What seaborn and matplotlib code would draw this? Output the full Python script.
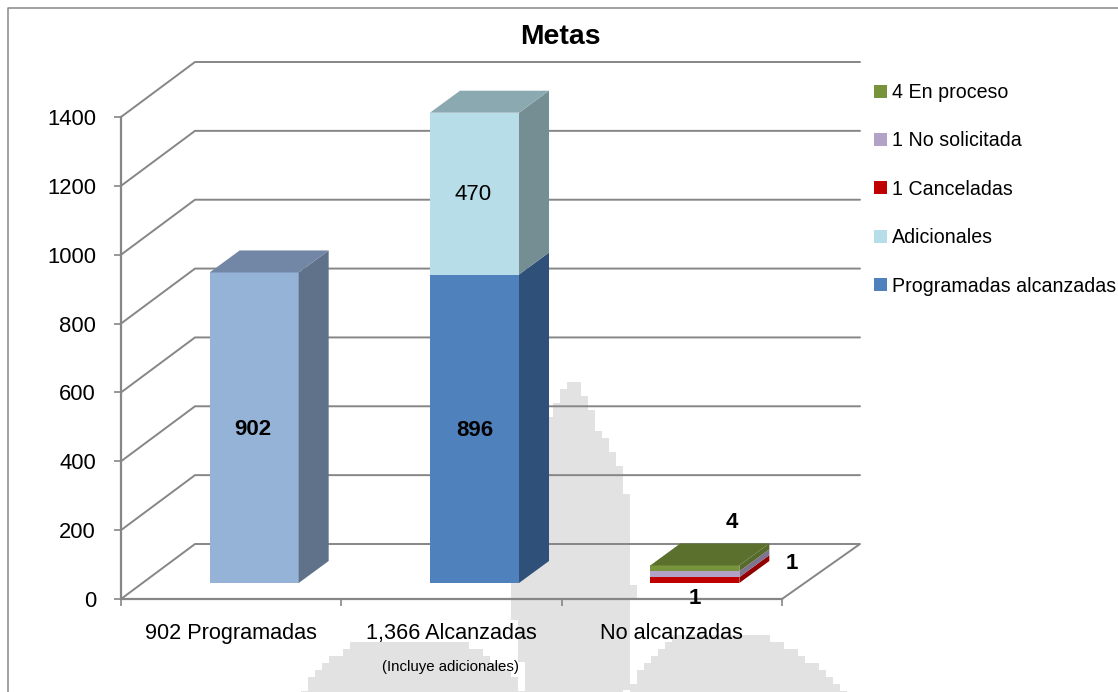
import numpy as np
import matplotlib
matplotlib.use('Agg')
import matplotlib.pyplot as plt
import seaborn as sns
from matplotlib.patches import Patch, Polygon
from matplotlib.transforms import Affine2D, IdentityTransform

categories = ['902 Programadas', '1,366 Alcanzadas', 'No alcanzadas']
y_ticks = [0, 200, 400, 600, 800, 1000, 1200, 1400]

programadas = [902, 0, 0]
programadas_alcanzadas = [0, 896, 0]
adicionales = [0, 470, 0]
# the picture draws these three thicker than their labels say
canceladas = [0, 0, 17]
no_solicitadas = [0, 0, 17]
en_proceso = [0, 0, 17]

series_values = [programadas, programadas_alcanzadas, adicionales,
                 canceladas, no_solicitadas, en_proceso]
# front, top, side
series_colors = [('#95B3D7', '#7286A5', '#607289'),
                 ('#4F81BD', '#39608F', '#2F5079'),
                 ('#B7DEE8', '#8AA9B0', '#758E94'),
                 ('#C00000', '#920000', '#920000'),
                 ('#B3A2C7', '#877A97', '#7F7390'),
                 ('#77933C', '#5C702E', '#566A2B')]

legend_names = ['4 En proceso', '1 No solicitada', '1 Canceladas', 'Adicionales', 'Programadas alcanzadas']
legend_colors = ['#77933C', '#B3A2C7', '#C00000', '#B7DEE8', '#4F81BD']

W, H = 1118, 692
GREY = '#868686'
WATERMARK = '#E2E2E2'
BAR_SHIFT = (23, 16)
BAR_DEPTH = (30, 22)

sns.set_theme(style='white')
plt.rcParams['font.family'] = ['Liberation Sans', 'DejaVu Sans']

fig = plt.figure(figsize=(W / 100, H / 100), dpi=100, facecolor='white')

# background layer in pixel coordinates: frame and faded watermark
bg = fig.add_axes([0, 0, 1, 1], zorder=0)
bg.set_xlim(0, W)
bg.set_ylim(H, 0)
bg.axis('off')
bg.plot([8, 8, W], [H, 7.5, 7.5], color=GREY, lw=1.1)


def watermark(rows, block=7):
    ys = np.arange(rows[0][0], rows[-1][0] + block, block)
    left = np.interp(ys, [r[0] for r in rows], [r[1] for r in rows])
    right = np.interp(ys, [r[0] for r in rows], [r[2] for r in rows])
    left = np.round(left / block) * block
    right = np.round(right / block) * block
    bg.fill_betweenx(ys, left, right, step='post', color=WATERMARK, lw=0)


watermark([(382, 565, 580), (400, 556, 588), (420, 548, 596), (460, 526, 620),
           (500, 516, 628), (590, 510, 634), (692, 527, 626)])
watermark([(642, 352, 468), (660, 325, 500), (692, 298, 528)])
watermark([(635, 675, 770), (660, 645, 815), (692, 628, 850)])

ax = fig.add_axes([121 / W, 1 - 599 / H, 661 / W, 482 / H], zorder=1)
ax.patch.set_visible(False)

shift = Affine2D().translate(*BAR_SHIFT)
faces = []
stack_top = [0, 0, 0]
for values, colors in zip(series_values, series_colors):
    for i, val in enumerate(values):
        if val == 0:
            continue
        n_before = len(ax.patches)
        sns.barplot(x=[categories[i]], y=[val], order=categories, color=colors[0],
                    saturation=1, width=0.404, bottom=stack_top[i], ax=ax)
        rect = ax.patches[n_before]
        rect.set_transform(ax.transData + shift)
        rect.set_linewidth(0)
        rect.set_clip_on(False)
        faces.append((i, rect, colors))
        stack_top[i] += val

ax.set_xlim(-0.5, 2.5)
ax.set_ylim(0, 1400)
ax.set_xlabel('')
ax.set_ylabel('')


def project(x, y, dx=0, dy=0):
    px, py = ax.transData.transform((x, y))
    return px + dx, py + dy


def draw_line(points, **kws):
    xs, ys = zip(*points)
    ax.plot(xs, ys, transform=IdentityTransform(), color=GREY, clip_on=False, zorder=0.5, **kws)


# side walls and floor
for tick in y_ticks:
    if tick == 0:
        draw_line([project(-0.5, 0), project(-0.5, 0, 74, 55), project(2.5, 0, 78, 55), project(2.5, 0)], lw=1.4)
    else:
        draw_line([project(-0.5, tick), project(-0.5, tick, 74, 55), project(2.5, tick, 78, 55)], lw=1.4)

# 3D faces of each bar
for i, rect, colors in faces:
    x0, x1 = rect.get_x(), rect.get_x() + rect.get_width()
    y0, y1 = rect.get_y(), rect.get_y() + rect.get_height()
    dx, dy = BAR_SHIFT
    ddx, ddy = BAR_DEPTH
    side = [project(x1, y0, dx, dy), project(x1, y1, dx, dy),
            project(x1, y1, dx + ddx, dy + ddy), project(x1, y0, dx + ddx, dy + ddy)]
    ax.add_patch(Polygon(side, closed=True, transform=IdentityTransform(), facecolor=colors[2],
                         lw=0, clip_on=False, zorder=1))
    if y1 >= stack_top[i]:
        top = [project(x0, y1, dx, dy), project(x1, y1, dx, dy),
               project(x1, y1, dx + ddx, dy + ddy), project(x0, y1, dx + ddx, dy + ddy)]
        ax.add_patch(Polygon(top, closed=True, transform=IdentityTransform(), facecolor=colors[1],
                             lw=0, clip_on=False, zorder=1))


def bar_text(text, x, y, dx=0, dy=0, weight='bold'):
    px, py = project(x, y, BAR_SHIFT[0] + dx, BAR_SHIFT[1] + dy)
    ax.text(px, py, text, transform=IdentityTransform(), ha='center', va='center',
            fontsize=16, fontweight=weight, color='black', clip_on=False, zorder=5)


bar_text('902', 0, programadas[0] / 2, dx=-1, dy=-2)
bar_text('896', 1, programadas_alcanzadas[1] / 2, dy=-2)
bar_text('470', 1, programadas_alcanzadas[1] + adicionales[1] / 2, dx=-1, dy=-1, weight='normal')
bar_text('4', 2, stack_top[2], dx=37, dy=43)
bar_text('1', 2, canceladas[2] / 2, dx=97, dy=17)
bar_text('1', 2, 0, dx=0, dy=-15)

# axes
sns.despine(ax=ax)
for side in ['left', 'bottom']:
    ax.spines[side].set_color(GREY)
    ax.spines[side].set_linewidth(1.6)
ax.set_yticks(y_ticks)
ax.set_xticks([-0.5, 0.5, 1.5, 2.5], labels=[])
ax.set_xticks([0, 1, 2], labels=categories, minor=True)
ax.tick_params(axis='y', which='major', direction='out', length=5, width=1.2, color=GREY,
               labelsize=15.8, pad=13, labelcolor='black', left=True)
ax.tick_params(axis='x', which='major', direction='out', length=5, width=1.2, color=GREY, bottom=True)
ax.tick_params(axis='x', which='minor', length=0, pad=17, labelsize=15.6, labelcolor='black')
ax.annotate('(Incluye adicionales)', xy=(1, 0), xycoords=('data', 'axes fraction'),
            xytext=(-1, -68), textcoords='offset pixels', ha='center', va='center',
            fontsize=10.8, color='black', annotation_clip=False)

ax.text(560 / W, 1 - 37 / H, 'Metas', transform=fig.transFigure, ha='center', va='center',
        fontsize=20.4, fontweight='bold', color='black')

handles = [Patch(facecolor=c, edgecolor='none', label=n) for n, c in zip(legend_names, legend_colors)]
ax.legend(handles=handles, loc='upper left', bbox_to_anchor=(874 / W, 1 - 83 / H),
          bbox_transform=fig.transFigure, frameon=False, borderpad=0, borderaxespad=0,
          fontsize=14.1, handlelength=0.66, handleheight=0.66, handletextpad=0.25,
          labelspacing=1.5, labelcolor='black')

fig.savefig('out.png', dpi=100, facecolor='white')
